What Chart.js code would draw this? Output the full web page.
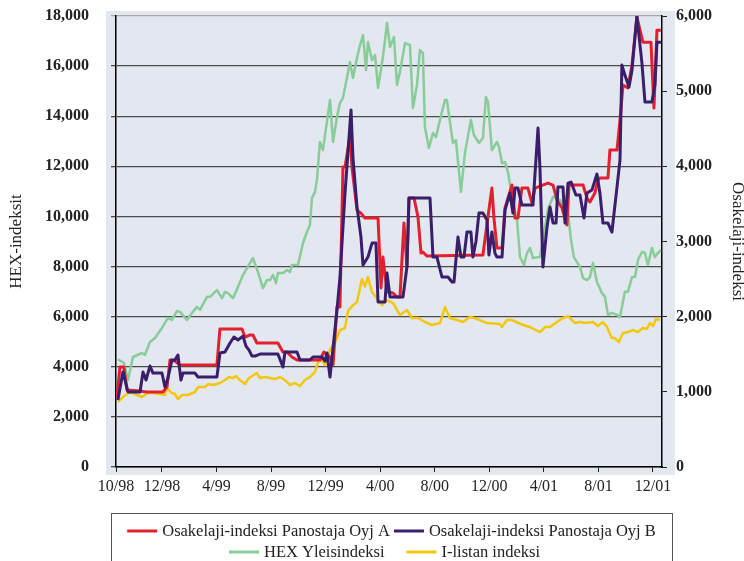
<!DOCTYPE html>
<html>
<head>
<meta charset="utf-8">
<script src="https://cdn.jsdelivr.net/npm/chart.js@4.4.1/dist/chart.umd.min.js"></script>
<style>
  body { margin: 0; background: #fff; }
  #wrap { width: 744px; height: 561px; position: relative; }
</style>
</head>
<body>
<div id="wrap"><canvas id="chart"></canvas></div>
<script>
// x values are months counted from 12/98
const tickMonths = [-3.37, 0, 4, 8, 12, 16, 20, 24, 28, 32, 36];
const tickLabels = ['10/98', '12/98', '4/99', '8/99', '12/99', '4/00', '8/00', '12/00', '4/01', '8/01', '12/01'];

// HEX Yleisindeksi (left axis)
const hexMonths = [-3.23, -2.79, -2.49, -2.13, -1.47, -1.25, -0.88, -0.51, 0, 0.44, 0.73, 1.10, 1.32, 1.83, 2.20, 2.57, 2.79, 3.30, 3.52, 4.03,
  4.40, 4.62, 4.84, 5.21, 5.57, 5.94, 6.45, 6.67, 7.04, 7.40, 7.70, 7.92, 8.14, 8.36, 8.50, 8.87, 9.16, 9.38, 9.53, 9.97,
  10.34, 10.63, 10.85, 11.00, 11.22, 11.36, 11.58, 11.80, 12.32, 12.54, 12.83, 13.05, 13.27, 13.56, 13.78, 14.00, 14.30, 14.52, 14.74, 14.96,
  15.10, 15.40, 15.62, 15.84, 16.20, 16.50, 16.72, 17.01, 17.23, 17.45, 17.82, 18.18, 18.40, 18.70, 18.91, 19.13, 19.28, 19.57, 19.87, 20.09,
  20.38, 20.75, 20.89, 21.33, 21.55, 21.92, 22.21, 22.65, 22.87, 23.24, 23.53, 23.75, 23.90, 24.19, 24.56, 24.71, 24.93, 25.15, 25.37, 25.66,
  26.03, 26.25, 26.54, 26.76, 26.98, 27.20, 27.71, 27.93, 28.30, 28.67, 29.18, 29.77, 29.99, 30.20, 30.65, 30.87, 31.16, 31.38, 31.60, 31.89,
  32.26, 32.48, 32.70, 32.99, 33.36, 33.58, 33.94, 34.16, 34.46, 34.68, 34.90, 35.19, 35.41, 35.63, 35.92, 36.14, 36.36, 36.58];
const hexValues = [4300, 4150, 3470, 4390, 4550, 4470, 4990, 5150, 5550, 5950, 5870, 6230, 6190, 5870, 6150, 6390, 6270, 6790, 6790, 7060,
  6740, 6990, 6940, 6740, 7180, 7660, 8140, 8340, 7780, 7140, 7460, 7460, 7660, 7340, 7740, 7740, 7860, 7780, 8060, 8060,
  8940, 9380, 9660, 10740, 10980, 11450, 12970, 12650, 14650, 12970, 13970, 14530, 14730, 15530, 16160, 15530, 16320, 16840, 17240, 15840,
  16960, 16240, 16440, 15130, 16360, 17720, 16760, 17160, 15250, 15770, 16920, 16840, 14330, 15250, 16640, 16520, 13570, 12730, 13330, 13170,
  13850, 14650, 14650, 12930, 13050, 10980, 12530, 13850, 13250, 12930, 13130, 14770, 14570, 12650, 12970, 12770, 12130, 12170, 11770, 10780,
  9860, 8380, 8060, 8540, 8740, 8340, 8380, 9060, 10300, 10780, 10660, 10140, 9060, 8380, 7980, 7540, 7460, 7580, 8140, 7380,
  6940, 6790, 6070, 6150, 6070, 5990, 6990, 6990, 7580, 7580, 8260, 8580, 8540, 8060, 8740, 8380, 8540, 8660];

// I-listan indeksi (right axis)
const ilistMonths = [-3.23, -2.86, -2.35, -1.83, -1.47, -1.03, -0.66, -0.15, 0.22, 0.37, 0.73, 0.95, 1.17, 1.47, 1.91, 2.42, 2.64, 3.15, 3.37, 3.74,
  4.25, 4.62, 4.91, 5.21, 5.43, 5.72, 6.09, 6.38, 6.96, 7.18, 7.55, 7.92, 8.28, 8.65, 9.02, 9.38, 9.75, 10.12, 10.48, 10.85,
  11.22, 11.44, 11.73, 11.95, 12.32, 12.68, 13.05, 13.42, 13.64, 14.00, 14.30, 14.66, 14.88, 15.10, 15.40, 15.76, 16.13, 16.50, 16.94, 17.45,
  17.96, 18.33, 18.77, 19.28, 19.79, 20.38, 20.75, 21.11, 21.63, 22.07, 22.58, 23.31, 23.83, 24.78, 24.93, 25.29, 25.66, 26.47, 26.98, 27.71,
  28.08, 28.45, 28.96, 29.40, 29.77, 30.28, 30.65, 31.01, 31.60, 31.96, 32.33, 32.62, 32.99, 33.21, 33.50, 33.80, 34.16, 34.53, 34.90, 35.26,
  35.56, 35.78, 36.00, 36.22, 36.51];
const ilistValues = [865, 931, 998, 958, 931, 984, 984, 971, 958, 1051, 984, 971, 904, 958, 958, 998, 1064, 1064, 1104, 1091,
  1117, 1157, 1197, 1184, 1210, 1157, 1104, 1184, 1250, 1184, 1197, 1184, 1170, 1197, 1157, 1091, 1117, 1077, 1157, 1197,
  1264, 1397, 1423, 1357, 1556, 1650, 1822, 1849, 2080, 2150, 2195, 2500, 2400, 2527, 2328, 2248, 2155, 2221, 2181, 2022,
  2088, 1982, 1982, 1929, 1889, 1915, 2128, 1982, 1955, 1929, 2000, 1955, 1915, 1902, 1862, 1955, 1955, 1889, 1862, 1796,
  1862, 1862, 1929, 1982, 2008, 1915, 1929, 1915, 1929, 1875, 1929, 1862, 1716, 1716, 1663, 1782, 1796, 1822, 1796, 1849,
  1836, 1915, 1875, 1969, 1955];

// Osakelaji-indeksi Panostaja Oyj A (right axis)
const aMonths = [-3.30, -3.08, -2.79, -2.57, -1.61, -1.10, 0.07, 0.37, 0.59, 0.95, 1.32, 4.03, 4.25, 5.87, 6.09, 6.45, 6.67, 6.96, 8.50, 8.87,
  9.16, 9.53, 9.90, 11.58, 11.87, 12.32, 12.54, 12.83, 13.05, 13.27, 13.42, 13.78, 13.93, 14.30, 14.59, 14.88, 15.84, 16.06, 16.20, 16.50,
  16.94, 17.23, 17.45, 17.74, 17.96, 18.11, 18.48, 18.77, 18.99, 19.13, 19.43, 23.53, 23.90, 24.19, 24.34, 24.56, 24.93, 25.15, 25.66, 25.88,
  26.10, 26.39, 26.83, 27.13, 27.35, 28.30, 28.67, 28.96, 29.33, 29.69, 29.84, 30.87, 31.16, 31.38, 31.74, 31.96, 32.11, 32.70, 32.84, 33.36,
  33.58, 33.80, 34.16, 34.46, 34.82, 35.26, 35.85, 36.07, 36.29, 36.58];
const aValues = [931, 1330, 1330, 1024, 1011, 998, 998, 1064, 1423, 1410, 1357, 1357, 1835, 1835, 1729, 1756, 1756, 1650, 1650, 1530,
  1530, 1463, 1423, 1423, 1530, 1460, 1357, 2128, 2128, 3990, 3990, 4389, 3990, 3418, 3378, 3312, 3312, 2381, 2793, 2328,
  2314, 2261, 2261, 3245, 2660, 3578, 3578, 3325, 2846, 2860, 2806, 2820, 3325, 3711, 3312, 2913, 2913, 3445, 3751, 3312,
  3312, 3711, 3711, 3512, 3711, 3777, 3751, 3551, 3445, 3219, 3751, 3751, 3578, 3525, 3645, 3817, 3844, 3844, 4216, 4216,
  4615, 5081, 5041, 5347, 5985, 5652, 5652, 4775, 5812, 5812];

// Osakelaji-indeksi Panostaja Oyj B (right axis)
const bMonths = [-3.23, -2.86, -2.49, -1.61, -1.39, -1.17, -0.88, -0.66, 0, 0.22, 0.44, 0.73, 0.95, 1.17, 1.39, 1.54, 2.42, 2.64, 4.03, 4.25,
  4.62, 4.99, 5.28, 5.57, 5.94, 6.16, 6.38, 6.60, 6.82, 7.18, 8.50, 8.87, 9.02, 9.90, 10.12, 10.85, 11.07, 11.73, 11.95, 12.10,
  12.32, 12.83, 13.05, 13.42, 13.86, 14.00, 14.30, 14.59, 14.74, 15.10, 15.40, 15.69, 15.84, 16.35, 16.50, 16.72, 17.67, 17.96, 18.11, 19.65,
  19.87, 20.16, 20.53, 20.97, 21.26, 21.41, 21.70, 21.92, 22.14, 22.36, 22.65, 22.80, 23.02, 23.24, 23.53, 23.83, 23.97, 24.19, 24.41, 24.56,
  24.93, 25.15, 25.51, 25.73, 25.88, 26.10, 26.39, 27.20, 27.57, 27.71, 27.93, 28.23, 28.45, 28.67, 28.89, 29.03, 29.40, 29.55, 29.77, 29.99,
  30.35, 30.65, 30.94, 31.16, 31.52, 31.89, 32.11, 32.33, 32.70, 32.99, 33.36, 33.58, 33.72, 33.94, 34.24, 34.46, 34.82, 35.19, 35.41, 35.92,
  36.14, 36.29, 36.58];
const bValues = [891, 1264, 998, 998, 1264, 1157, 1343, 1250, 1250, 1064, 1184, 1423, 1423, 1490, 1157, 1250, 1250, 1197, 1197, 1516,
  1530, 1650, 1729, 1689, 1742, 1609, 1556, 1476, 1476, 1503, 1503, 1330, 1530, 1530, 1423, 1423, 1463, 1463, 1410, 1516,
  1197, 2088, 2527, 3644, 4748, 4123, 3458, 3059, 2687, 2793, 2979, 2979, 2195, 2195, 2580, 2261, 2261, 2660, 3578, 3578,
  2793, 2793, 2527, 2527, 2461, 2461, 3059, 2793, 2793, 3126, 3126, 2793, 3000, 3378, 3378, 3285, 2820, 3126, 2846, 2793,
  2793, 3418, 3644, 3378, 3711, 3711, 3485, 3485, 4509, 3990, 2660, 3192, 3458, 3245, 3245, 3724, 3724, 3245, 3777, 3791,
  3618, 3618, 3312, 3644, 3684, 3897, 3644, 3245, 3245, 3126, 3724, 4083, 5347, 5214, 5054, 5280, 6000, 5373, 4855, 4855,
  5081, 5652, 5652];

const toPoints = (xs, ys) => xs.map((x, i) => ({ x: x, y: ys[i] }));

Chart.defaults.font.family = "'Liberation Serif', 'DejaVu Serif', serif";
Chart.defaults.color = '#222';

// grey panel behind the plot
const panelBg = {
    id: 'panelBg',
    beforeDraw(chart) {
        const { ctx, chartArea: a } = chart;
        ctx.save();
        ctx.fillStyle = '#fff';
        ctx.fillRect(0, 0, chart.width, chart.height);
        ctx.fillStyle = '#e3e7ef';
        ctx.fillRect(a.left - 10, a.top - 5, a.right - a.left + 23, a.bottom - a.top + 13);
        ctx.restore();
    }
};

// boxed legend in two centered rows
const boxLegend = {
    id: 'boxLegend',
    afterDraw(chart) {
        const ctx = chart.ctx;
        const sets = chart.data.datasets;
        const rows = [{ items: [0, 1], gap: 4, y: 531, shift: 0 }, { items: [2, 3], gap: 22, y: 552, shift: -7 }];
        const box = { left: 111, top: 513, right: 672, bottom: 566 };
        ctx.save();
        ctx.strokeStyle = '#555';
        ctx.lineWidth = 1;
        ctx.strokeRect(box.left + 0.5, box.top + 0.5, box.right - box.left, box.bottom - box.top);
        ctx.font = "16.5px 'Liberation Serif', serif";
        ctx.textBaseline = 'middle';
        rows.forEach(row => {
            const widths = row.items.map(i => 35 + ctx.measureText(sets[i].label).width);
            const total = widths.reduce((s, w) => s + w, 0) + row.gap * (row.items.length - 1);
            let x = (box.left + box.right) / 2 - total / 2 + row.shift;
            row.items.forEach((i, k) => {
                ctx.strokeStyle = sets[i].borderColor;
                ctx.lineWidth = 3;
                ctx.beginPath();
                ctx.moveTo(x, row.y);
                ctx.lineTo(x + 30, row.y);
                ctx.stroke();
                ctx.fillStyle = '#222';
                ctx.fillText(sets[i].label, x + 35, row.y + 1);
                x += widths[k] + row.gap;
            });
        });
        ctx.restore();
    }
};

// keep the tick padding from pushing the plot area down
const noLabelPad = scale => { scale.paddingTop = 0; scale.paddingBottom = 0; };

new Chart(document.getElementById('chart').getContext('2d'), {
    type: 'line',
    data: {
        datasets: [{
            label: 'Osakelaji-indeksi Panostaja Oyj A',
            data: toPoints(aMonths, aValues),
            borderColor: '#e2202f',
            borderWidth: 3,
            yAxisID: 'y1',
            order: 1
        }, {
            label: 'Osakelaji-indeksi Panostaja Oyj B',
            data: toPoints(bMonths, bValues),
            borderColor: '#3a1e6c',
            borderWidth: 3,
            yAxisID: 'y1',
            order: 0
        }, {
            label: 'HEX Yleisindeksi',
            data: toPoints(hexMonths, hexValues),
            borderColor: '#88cc98',
            borderWidth: 2.5,
            yAxisID: 'y',
            order: 3
        }, {
            label: 'I-listan indeksi',
            data: toPoints(ilistMonths, ilistValues),
            borderColor: '#f3c80c',
            borderWidth: 2.5,
            yAxisID: 'y1',
            order: 2
        }]
    },
    options: {
        responsive: true,
        maintainAspectRatio: false,
        animation: false,
        elements: { point: { radius: 0 }, line: { tension: 0, borderJoinStyle: 'round' } },
        layout: { padding: { top: 16, bottom: 64, left: 0, right: 0 } },
        plugins: { legend: { display: false }, tooltip: { enabled: false } },
        scales: {
            x: {
                type: 'linear',
                min: -3.37,
                max: 36.66,
                afterBuildTicks: scale => { scale.ticks = tickMonths.map(v => ({ value: v })); },
                afterFit: scale => { scale.height = 30; },
                ticks: {
                    autoSkip: false,
                    maxRotation: 0,
                    padding: 5,
                    font: { size: 16 },
                    callback: value => tickLabels[tickMonths.indexOf(value)]
                },
                grid: { drawOnChartArea: false, drawTicks: true, tickLength: 5, color: '#222' },
                border: { color: '#000', width: 1.5 }
            },
            y: {
                position: 'left',
                min: 0,
                max: 18000,
                afterFit: scale => { scale.width = 116; noLabelPad(scale); },
                ticks: {
                    stepSize: 2000,
                    padding: 22,
                    font: { size: 16, weight: 'bold' },
                    callback: value => value.toLocaleString('en-US')
                },
                grid: {
                    color: ctx => ctx.tick && ctx.tick.value === 18000 ? '#a8a8a8' : '#4a4a4a',
                    lineWidth: 1.3,
                    tickLength: 5
                },
                border: { color: '#000', width: 1.5 },
                title: { display: true, text: 'HEX-indeksit', font: { size: 17 }, padding: { top: 6 } }
            },
            y1: {
                position: 'right',
                min: 0,
                max: 6000,
                afterFit: scale => { scale.width = 82; noLabelPad(scale); },
                ticks: {
                    stepSize: 1000,
                    padding: 9,
                    font: { size: 16, weight: 'bold' },
                    callback: value => value.toLocaleString('en-US')
                },
                grid: { drawOnChartArea: false, tickLength: 5, color: '#222' },
                border: { color: '#000', width: 1.5 },
                title: { display: true, text: 'Osakelaji-indeksi', font: { size: 17 }, padding: { top: -4 } }
            }
        }
    },
    plugins: [panelBg, boxLegend]
});
</script>
</body>
</html>
